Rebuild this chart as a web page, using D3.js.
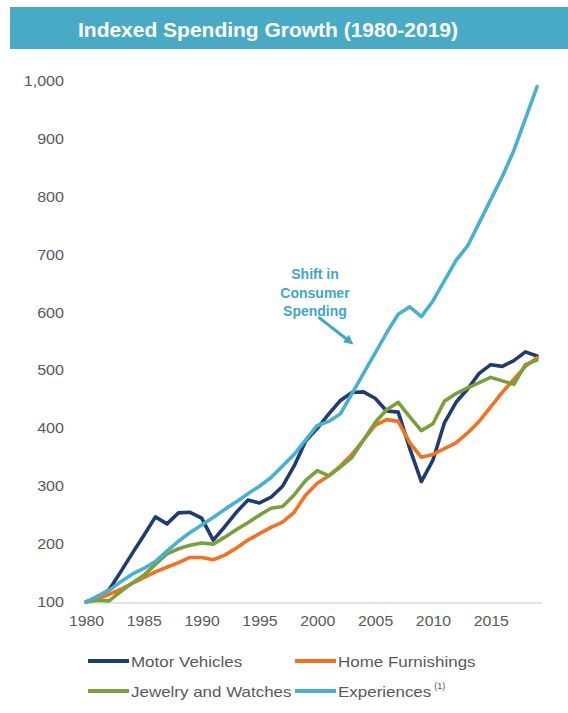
<!DOCTYPE html>
<html>
<head>
<meta charset="utf-8">
<script src="https://cdn.jsdelivr.net/npm/d3@7/dist/d3.min.js"></script>
<style>
  html, body { margin: 0; padding: 0; background: #fff; }
  svg { display: block; font-family: "Liberation Sans", Arial, sans-serif; }
</style>
</head>
<body>
<svg id="chart" width="568" height="713"></svg>
<script>
// Index values, 1980 = 100
const years = d3.range(1980, 2020);
const motorVehicles = [100,108,121,152,184,215,247,235,254,255,245,207,230,255,276,271,281,300,335,378,
                       400,425,448,462,463,452,430,428,365,308,345,410,445,468,495,510,507,517,532,525];
const homeFurnishings = [100,106,113,122,132,142,152,160,168,177,177,173,181,193,207,218,229,238,255,285,
                         305,318,335,355,380,405,415,412,375,350,355,365,375,392,412,437,462,485,507,522];
const jewelryWatches = [100,103,102,118,133,146,165,183,192,198,202,200,212,225,237,250,262,265,285,310,
                        327,318,333,350,380,410,432,445,420,396,408,447,460,470,479,488,482,476,510,518];
const experiences = [100,110,120,135,148,158,170,188,205,220,233,246,260,273,287,300,315,335,355,380,
                     405,412,425,460,495,530,565,597,610,593,620,655,690,715,755,795,835,880,935,990];

const seriesNames = ["Motor Vehicles", "Home Furnishings", "Jewelry and Watches", "Experiences"];
const seriesColors = ["#203B73", "#F4711F", "#78A13B", "#48B0D3"];
const seriesValues = [motorVehicles, homeFurnishings, jewelryWatches, experiences];

const yTicks = [100,200,300,400,500,600,700,800,900,1000];
const xTicks = [1980,1985,1990,1995,2000,2005,2010,2015];
const titleText = "Indexed Spending Growth (1980-2019)";
const noteLines = ["Shift in", "Consumer", "Spending"];

const svg = d3.select("#chart");
const x = d3.scaleLinear().domain([1980, 2019]).range([86, 537]);
const y = d3.scaleLinear().domain([100, 1000]).range([602, 81]);

// stretch gray text slightly wider, like the original typeface; returns final width
function widen(sel, factor) {
  let last = 0;
  sel.each(function () {
    const w = this.getComputedTextLength() * factor;
    d3.select(this).attr("textLength", w).attr("lengthAdjust", "spacingAndGlyphs");
    last = w;
  });
  return last;
}

// title banner
svg.append("rect").attr("x", 10).attr("y", 7).attr("width", 558).attr("height", 42).attr("fill", "#49AAC6");
svg.append("text").attr("x", 268).attr("y", 37).attr("text-anchor", "middle")
  .attr("fill", "#fff").attr("font-weight", "bold").attr("font-size", 21)
  .text(titleText)
  .attr("textLength", 380).attr("lengthAdjust", "spacingAndGlyphs");

// y axis labels
const yAxis = svg.append("g").attr("transform", "translate(64,0)")
  .call(d3.axisLeft(y).tickValues(yTicks).tickSize(0).tickPadding(0).tickFormat(d3.format(",")));
yAxis.select(".domain").remove();
yAxis.selectAll("text").attr("fill", "#595959").attr("font-size", 14).attr("font-family", "Liberation Sans, Arial, sans-serif");
widen(yAxis.selectAll("text"), 1.15);

// x axis labels
const xAxis = svg.append("g").attr("transform", "translate(0,604)")
  .call(d3.axisBottom(x).tickValues(xTicks).tickSize(0).tickPadding(12).tickFormat(d3.format("d")));
xAxis.select(".domain").remove();
xAxis.selectAll("text").attr("fill", "#595959").attr("font-size", 14).attr("font-family", "Liberation Sans, Arial, sans-serif");
widen(xAxis.selectAll("text"), 1.13);

// baseline
svg.append("line").attr("x1", 84).attr("x2", 542).attr("y1", y(100) + 1).attr("y2", y(100) + 1)
  .attr("stroke", "#D9D9D9").attr("stroke-width", 1.5);

// series lines
const line = d3.line().x((d, i) => x(years[i])).y(d => y(d));
svg.append("g").selectAll("path").data(seriesValues).join("path")
  .attr("d", line)
  .attr("fill", "none")
  .attr("stroke", (d, i) => seriesColors[i])
  .attr("stroke-width", 3.6)
  .attr("stroke-linejoin", "round")
  .attr("stroke-linecap", "round");

// annotation
const noteColor = "#3FA7C6";
svg.append("text").attr("text-anchor", "middle").attr("fill", noteColor)
  .attr("font-weight", "bold").attr("font-size", 14)
  .selectAll("tspan").data(noteLines).join("tspan")
  .attr("x", x(1999.8)).attr("y", (d, i) => 279 + i * 18.5).text(d => d);

const defs = svg.append("defs");
defs.append("marker").attr("id", "arrow").attr("viewBox", "0 0 10 10")
  .attr("refX", 5).attr("refY", 5).attr("markerWidth", 3.2).attr("markerHeight", 3.2)
  .attr("orient", "auto")
  .append("path").attr("d", "M0,0 L10,5 L0,10 Z").attr("fill", noteColor);
svg.append("line")
  .attr("x1", x(2000.1)).attr("y1", y(592))
  .attr("x2", x(2002.8)).attr("y2", y(550))
  .attr("stroke", noteColor).attr("stroke-width", 3)
  .attr("marker-end", "url(#arrow)");

// legend
const legendPos = [[88, 661], [295, 661], [88, 691], [295, 691]];
const legend = svg.append("g");
seriesNames.forEach((name, i) => {
  const [lx, ly] = legendPos[i];
  legend.append("line").attr("x1", lx).attr("x2", lx + 41).attr("y1", ly).attr("y2", ly)
    .attr("stroke", seriesColors[i]).attr("stroke-width", 4);
  const t = legend.append("text").attr("x", lx + 43).attr("y", ly + 5.5)
    .attr("fill", "#595959").attr("font-size", 15).text(name);
  const w = widen(t, 1.13);
  if (name === "Experiences") {
    legend.append("text").attr("x", lx + 43 + w + 3).attr("y", ly - 2)
      .attr("fill", "#595959").attr("font-size", 9).text("(1)");
  }
});
</script>
</body>
</html>
